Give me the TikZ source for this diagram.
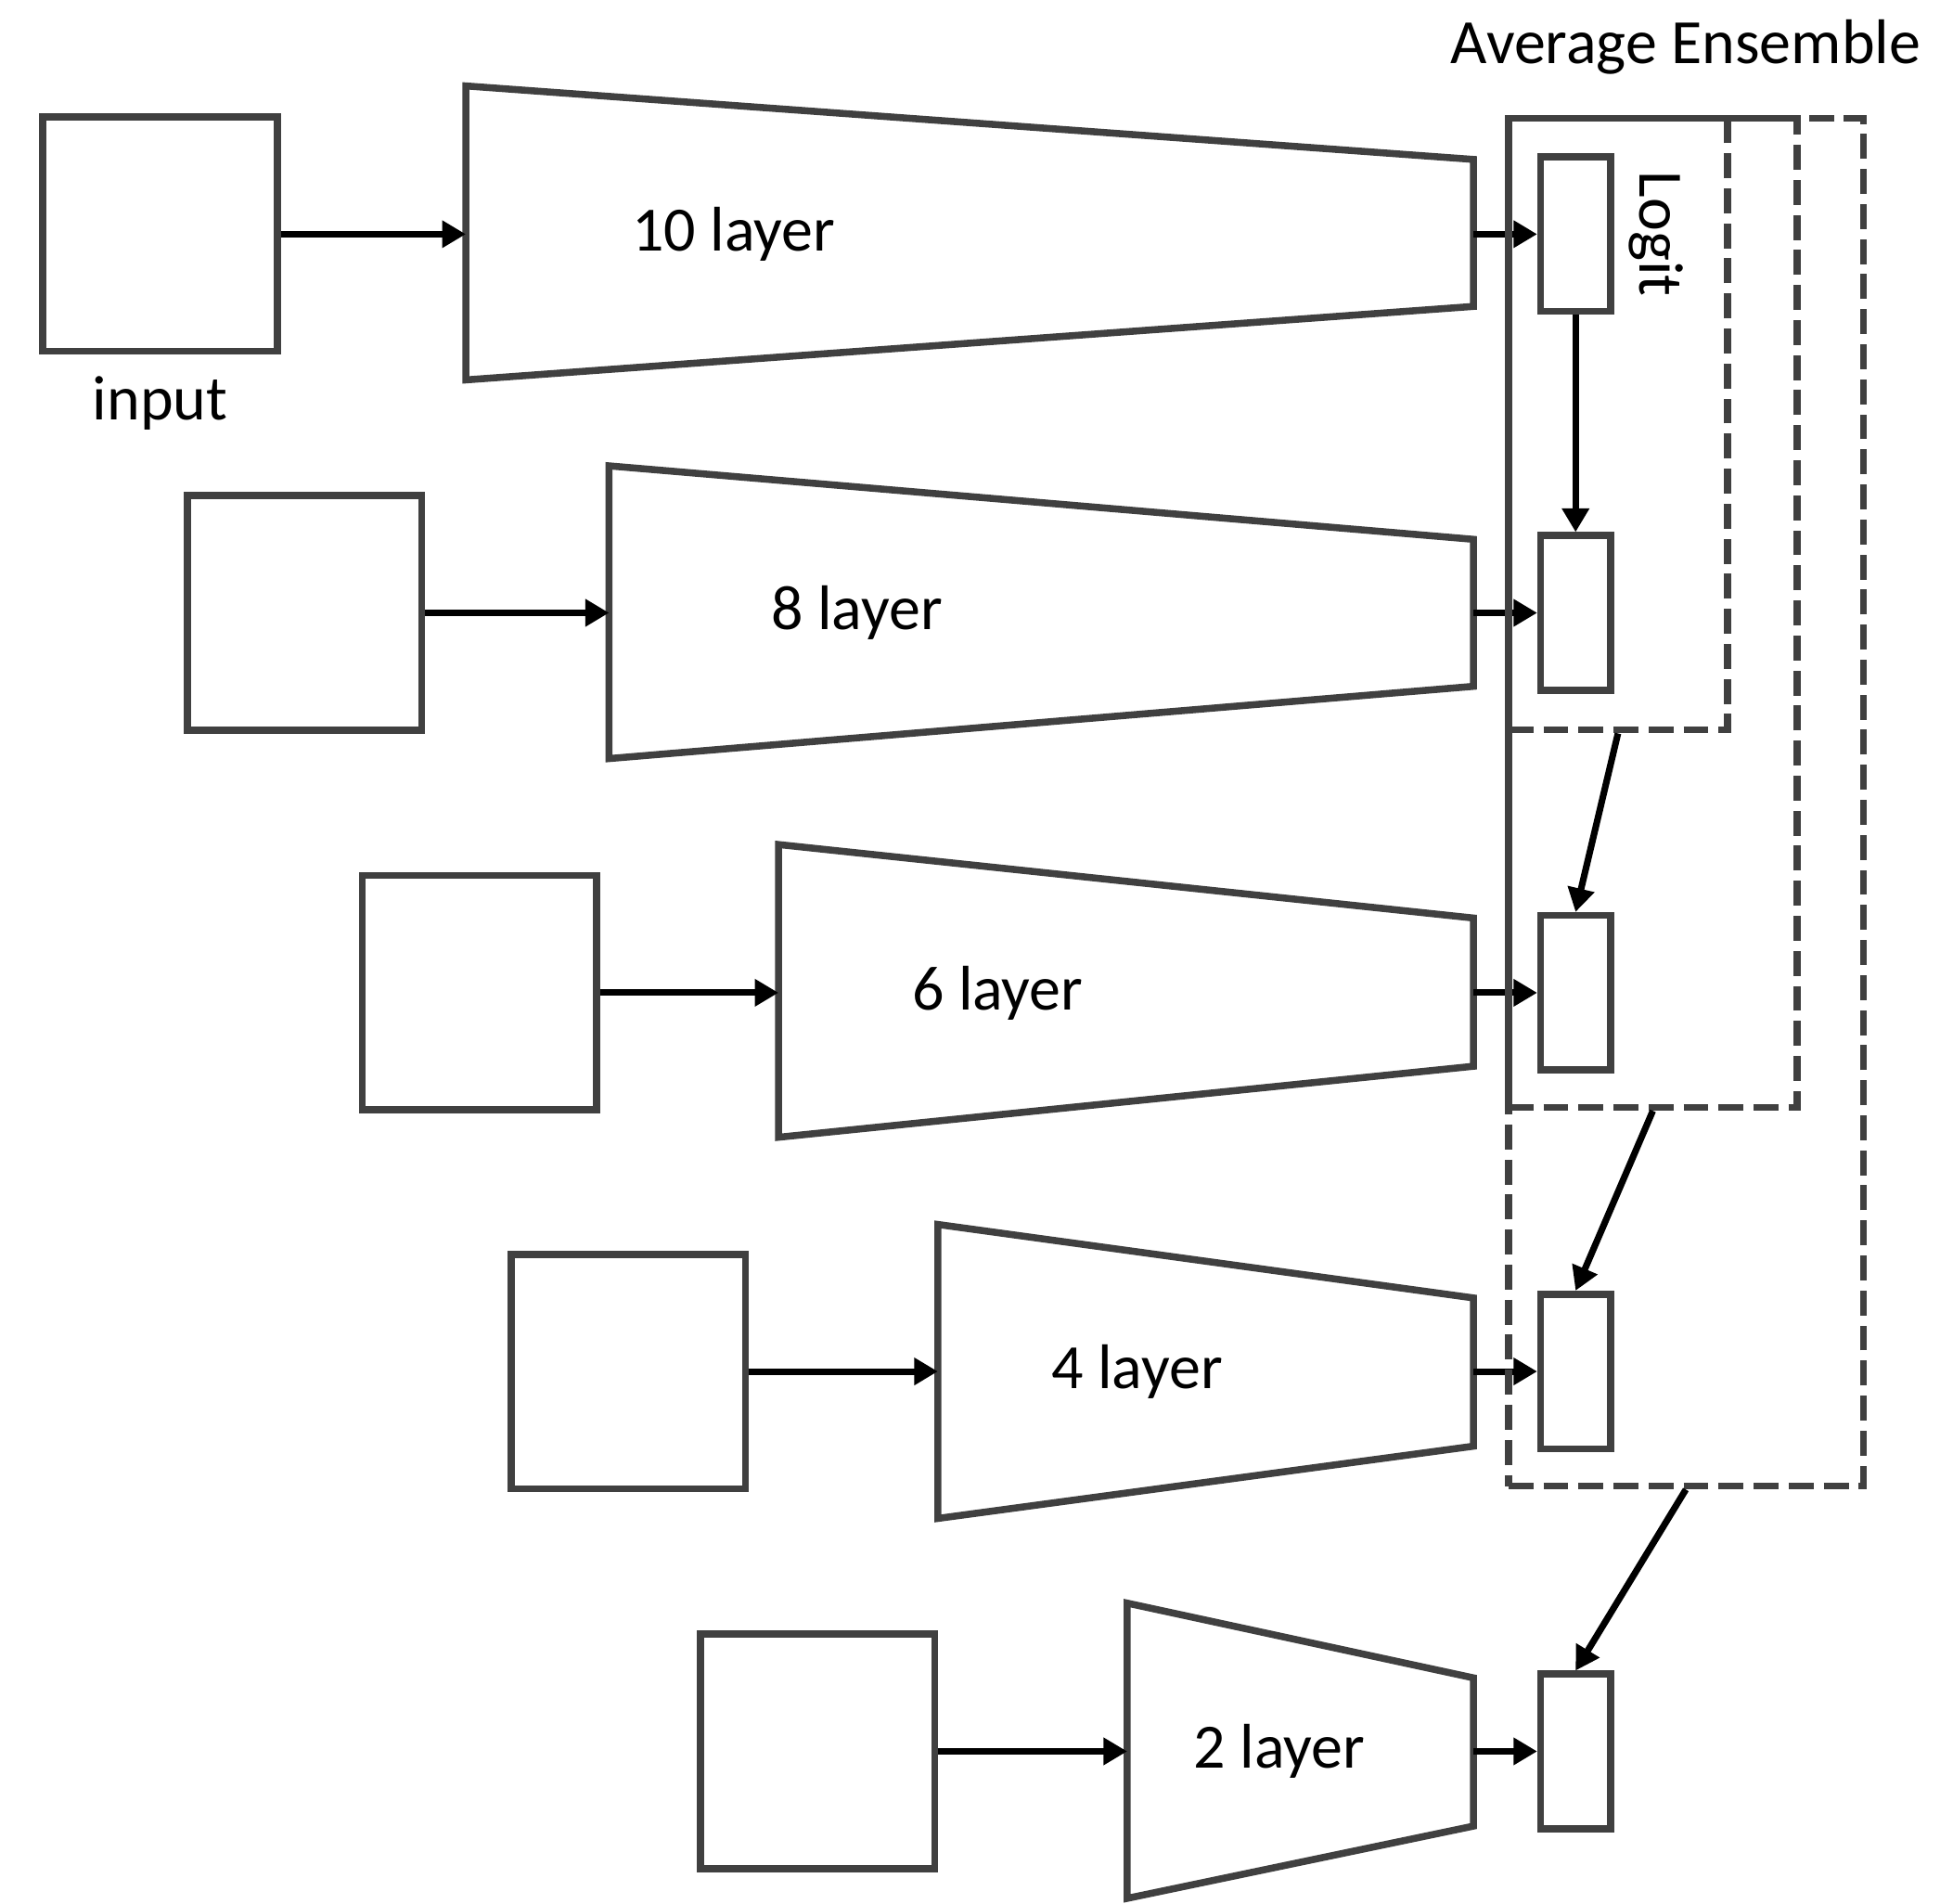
\documentclass[tikz,border=0pt]{standalone}
\usepackage{fontspec}
\setmainfont{Carlito}
\usepackage{tikz}
\usetikzlibrary{arrows.meta,positioning,fit}
\definecolor{edge}{HTML}{404040}

\begin{document}
\begin{tikzpicture}[
    x=0.01cm, y=-0.01cm,
    font=\fontsize{14.4}{17}\selectfont,
    inbox/.style={rectangle, draw=edge, line width=1.6pt,
                  minimum width=1.88cm, minimum height=1.88cm, inner sep=0pt},
    net/.style={draw=edge, line width=1.6pt, line join=miter},
    logitbox/.style={rectangle, draw=edge, line width=1.6pt,
                     minimum width=0.56cm, minimum height=1.24cm, inner sep=0pt},
    ensbox/.style={rectangle, draw=edge, line width=1.6pt,
                   dash pattern=on 5.7pt off 2.3pt, inner sep=0pt},
    arrow/.style={-{Triangle[length=0.19cm, width=0.21cm]}, line width=1.5pt, draw=black}
]
\useasboundingbox (0,0) rectangle (1568,1528);

% 10 layer
\node[inbox] (in1) at (128.5,188) {};
\node[below=0.5mm of in1] (inlab) {input};
\draw[net] (374,69) -- (1183,128) -- (1183,246) -- (374,305) -- cycle;
\coordinate (t1in) at (374,188);
\coordinate (t1out) at (1183,188);
\node (l1) at (589,188) {10 layer};
\node[logitbox] (lg1) at (1265,188) {};
\node[rotate=-90, anchor=south, inner sep=1pt] (logitlab) at ([xshift=0.08cm]lg1.east) {Logit};

% 8 layer
\node[inbox] (in2) at (244.5,492) {};
\draw[net] (489,374) -- (1183,433) -- (1183,551) -- (489,609) -- cycle;
\coordinate (t2in) at (489,492);
\coordinate (t2out) at (1183,492);
\node (l2) at (688,492) {8 layer};
\node[logitbox] (lg2) at (1265,492) {};

% 6 layer
\node[inbox] (in3) at (385,797) {};
\draw[net] (625,678) -- (1183,737) -- (1183,856) -- (625,913) -- cycle;
\coordinate (t3in) at (625,797);
\coordinate (t3out) at (1183,797);
\node (l3) at (801,797) {6 layer};
\node[logitbox] (lg3) at (1265,797) {};

% 4 layer
\node[inbox] (in4) at (504.5,1101) {};
\draw[net] (753,983) -- (1183,1042) -- (1183,1161) -- (753,1219) -- cycle;
\coordinate (t4in) at (753,1101);
\coordinate (t4out) at (1183,1101);
\node (l4) at (913,1101) {4 layer};
\node[logitbox] (lg4) at (1265,1101) {};

% 2 layer
\node[inbox] (in5) at (656.5,1406) {};
\draw[net] (905,1287) -- (1183,1347) -- (1183,1466) -- (905,1524) -- cycle;
\coordinate (t5in) at (905,1406);
\coordinate (t5out) at (1183,1406);
\node (l5) at (1027,1406) {2 layer};
\node[logitbox] (lg5) at (1265,1406) {};

% Arrows
\draw[arrow] (in1.east) -- (t1in);
\draw[arrow] (in2.east) -- (t2in);
\draw[arrow] (in3.east) -- (t3in);
\draw[arrow] (in4.east) -- (t4in);
\draw[arrow] (in5.east) -- (t5in);
\draw[arrow] (t1out) -- (lg1.west);
\draw[arrow] (t2out) -- (lg2.west);
\draw[arrow] (t3out) -- (lg3.west);
\draw[arrow] (t4out) -- (lg4.west);
\draw[arrow] (t5out) -- (lg5.west);

% Ensembles
\node[ensbox, fit={(1211,95) (1387,586)}] (ensA) {};
\node[ensbox, fit={(1211,95) (1443,889)}] (ensB) {};
\node[ensbox, fit={(1211,95) (1496,1193)}] (ensC) {};
\node[above=2mm of ensC] (avg) {Average Ensemble};

\draw[arrow] (lg1.south) -- (lg2.north);
\draw[arrow] (ensA.south) -- (lg3.north);
\draw[arrow] (ensB.south) -- (lg4.north);
\draw[arrow] (ensC.south) -- (lg5.north);

\end{tikzpicture}
\end{document}
